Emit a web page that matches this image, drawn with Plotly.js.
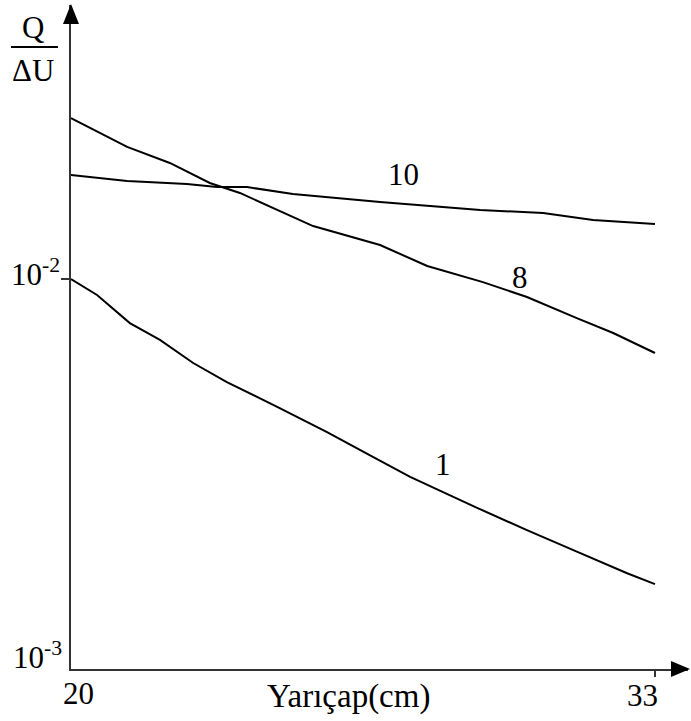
<!DOCTYPE html>
<html>
<head>
<meta charset="utf-8">
<script src="https://cdn.plot.ly/plotly-3.0.1.min.js"></script>
<style>html,body{margin:0;padding:0;background:#fff;}#chart{width:691px;height:721px;}</style>
</head>
<body>
<div id="chart"></div>
<script>
// Curve 8
const x8 = [20.0, 21.25, 22.20, 23.09, 23.76, 24.50, 25.39, 26.88, 27.93, 29.17, 30.15, 31.26, 32.07, 33.0];
const y8 = [0.02587, 0.02181, 0.01984, 0.01763, 0.01662, 0.01521, 0.01367, 0.01222, 0.01080, 0.00982, 0.00899, 0.00794, 0.00727, 0.00646];
// Curve 10
const x10 = [20.0, 21.25, 22.58, 23.25, 23.92, 24.94, 26.88, 29.11, 30.51, 31.62, 33.0];
const y10 = [0.01848, 0.01784, 0.01752, 0.01721, 0.01721, 0.01651, 0.01575, 0.01503, 0.01476, 0.01417, 0.01384];
// Curve 1
const x1 = [20.0, 20.58, 21.31, 21.98, 22.72, 23.47, 24.59, 25.70, 26.72, 27.55, 29.04, 30.15, 31.26, 32.38, 33.0];
const y1 = [0.01000, 0.00910, 0.00771, 0.00698, 0.00609, 0.00544, 0.00470, 0.00405, 0.00350, 0.00311, 0.00259, 0.00227, 0.00200, 0.00176, 0.00165];
const curveNames = ["10", "8", "1"];
const xTickVals = [20, 33];
const xTickText = ["20", "33"];
const yTickText = ["10<sup>-3</sup>", "10<sup>-2</sup>"];
const xTitle = "Yarıçap(cm)";
const yTitleTop = "Q";
const yTitleBottom = "ΔU";

const serif = "Liberation Serif";
const lineStyle = {color: "#000", width: 2};

const traces = [
  {x: x10, y: y10, name: curveNames[0], mode: "lines", line: lineStyle},
  {x: x8, y: y8, name: curveNames[1], mode: "lines", line: lineStyle},
  {x: x1, y: y1, name: curveNames[2], mode: "lines", line: lineStyle}
];

// plot area: left 71px, right 688px, top 5px, bottom 669px
const W = 617, H = 664;
const px = v => (v - 71) / W;
const py = v => (669 - v) / H;
const f = {family: serif, size: 31, color: "#000"};
const fT = {family: serif, size: 33, color: "#000"};

const layout = {
  width: 691, height: 721,
  margin: {l: 71, r: 3, t: 5, b: 52},
  paper_bgcolor: "#fff", plot_bgcolor: "#fff",
  font: {family: serif, size: 31, color: "#000"},
  showlegend: false,
  hovermode: false,
  xaxis: {
    range: [20, 33.735], showgrid: false, zeroline: false,
    showline: true, linecolor: "#333", linewidth: 2,
    tickmode: "array", tickvals: [xTickVals[1]], ticks: "outside", ticklen: 6, tickwidth: 2, tickcolor: "#333",
    showticklabels: false
  },
  yaxis: {
    type: "log", range: [-3, -1.2974], showgrid: false, zeroline: false,
    showline: true, linecolor: "#333", linewidth: 2,
    tickmode: "array", tickvals: [0.01], ticks: "outside", ticklen: 8, tickwidth: 2, tickcolor: "#333",
    showticklabels: false
  },
  shapes: [
    {type: "path", xref: "paper", yref: "paper",
     path: `M ${px(71)} ${py(4)} L ${px(63)} ${py(24)} L ${px(79)} ${py(24)} Z`,
     fillcolor: "#000", line: {width: 0}},
    {type: "path", xref: "paper", yref: "paper",
     path: `M ${px(690)} ${py(669)} L ${px(671)} ${py(661)} L ${px(671)} ${py(677)} Z`,
     fillcolor: "#000", line: {width: 0}},
    {type: "line", xref: "paper", yref: "paper",
     x0: px(11), x1: px(58), y0: py(47), y1: py(47), line: {color: "#000", width: 2}}
  ],
  annotations: [
    {xref: "paper", yref: "paper", x: px(33), y: py(28), text: yTitleTop, showarrow: false, xanchor: "center", yanchor: "middle", font: f},
    {xref: "paper", yref: "paper", x: px(33), y: py(70), text: yTitleBottom, showarrow: false, xanchor: "center", yanchor: "middle", font: f},
    {xref: "paper", yref: "paper", x: px(62), y: py(272), text: yTickText[1], showarrow: false, xanchor: "right", yanchor: "middle", font: f},
    {xref: "paper", yref: "paper", x: px(64), y: py(655), text: yTickText[0], showarrow: false, xanchor: "right", yanchor: "middle", font: f},
    {xref: "paper", yref: "paper", x: px(78), y: py(693), text: xTickText[0], showarrow: false, xanchor: "center", yanchor: "middle", font: f},
    {xref: "paper", yref: "paper", x: px(642), y: py(695), text: xTickText[1], showarrow: false, xanchor: "center", yanchor: "middle", font: f},
    {xref: "paper", yref: "paper", x: px(348), y: py(696), text: xTitle, showarrow: false, xanchor: "center", yanchor: "middle", font: fT},
    {xref: "paper", yref: "paper", x: px(403), y: py(175), text: curveNames[0], showarrow: false, xanchor: "center", yanchor: "middle", font: f},
    {xref: "paper", yref: "paper", x: px(520), y: py(277), text: curveNames[1], showarrow: false, xanchor: "center", yanchor: "middle", font: f},
    {xref: "paper", yref: "paper", x: px(443), y: py(465), text: curveNames[2], showarrow: false, xanchor: "center", yanchor: "middle", font: f}
  ]
};

Plotly.newPlot("chart", traces, layout, {displayModeBar: false, staticPlot: true});
</script>
</body>
</html>
